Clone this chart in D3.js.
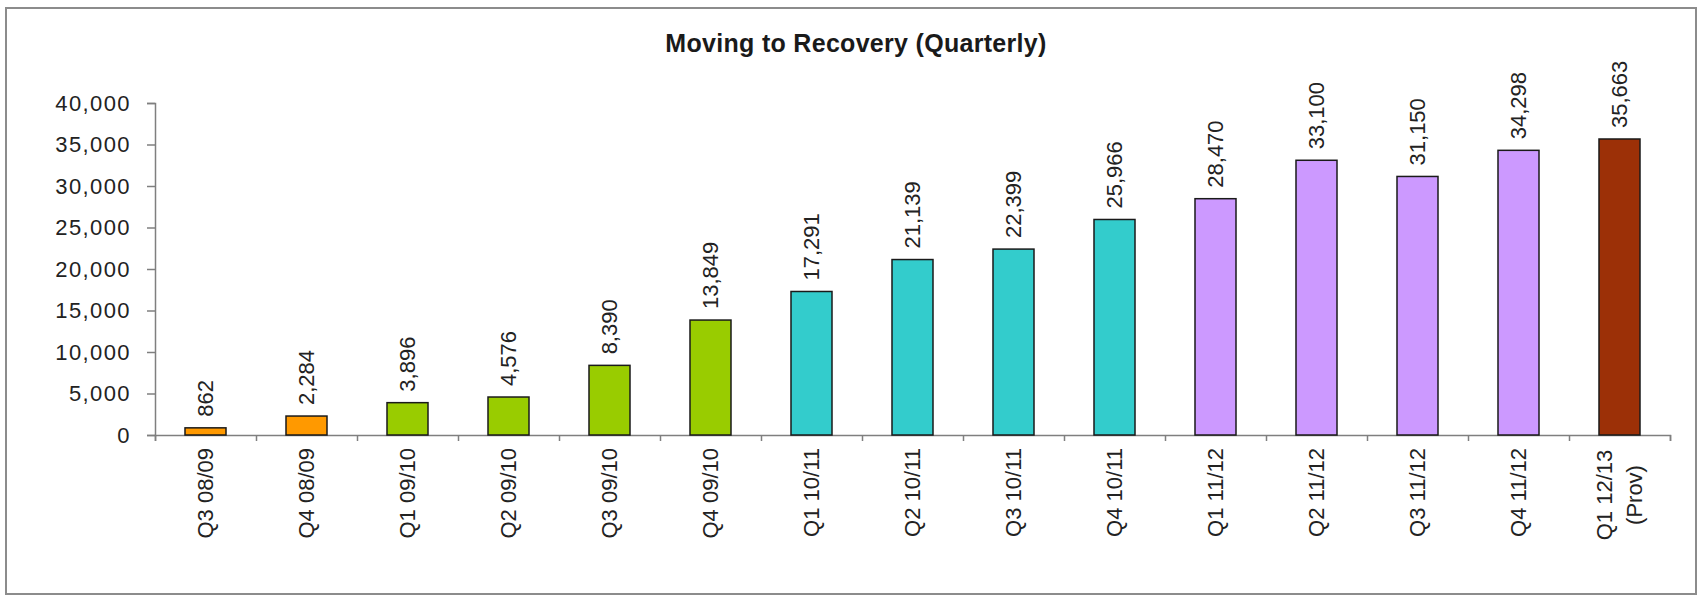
<!DOCTYPE html>
<html>
<head>
<meta charset="utf-8">
<script src="https://cdn.jsdelivr.net/npm/d3@7"></script>
<style>
  html, body { margin: 0; padding: 0; background: #ffffff; }
  svg { display: block; }
  text { font-family: "Liberation Sans", Arial, sans-serif; }
</style>
</head>
<body>
<svg id="chart" width="1701" height="596"></svg>
<script>
// ---- data ----
const title = "Moving to Recovery (Quarterly)";
const categories = ["Q3 08/09", "Q4 08/09", "Q1 09/10", "Q2 09/10", "Q3 09/10", "Q4 09/10",
  "Q1 10/11", "Q2 10/11", "Q3 10/11", "Q4 10/11", "Q1 11/12", "Q2 11/12", "Q3 11/12",
  "Q4 11/12", "Q1 12/13\n(Prov)"];
const values = [862, 2284, 3896, 4576, 8390, 13849, 17291, 21139, 22399, 25966,
  28470, 33100, 31150, 34298, 35663];
const years = ["08/09", "08/09", "09/10", "09/10", "09/10", "09/10", "10/11", "10/11",
  "10/11", "10/11", "11/12", "11/12", "11/12", "11/12", "12/13"];
const yTicks = [0, 5000, 10000, 15000, 20000, 25000, 30000, 35000, 40000];

// ---- layout / style ----
const W = 1701, H = 596;
const plotLeft = 155, plotRight = 1670, plotTop = 103, plotBottom = 435;
const yearColors = d3.scaleOrdinal()
  .domain(["08/09", "09/10", "10/11", "11/12", "12/13"])
  .range(["#FF9900", "#99CC00", "#33CCCC", "#CC99FF", "#9C3007"]);

const svg = d3.select("#chart");
svg.append("rect").attr("width", W).attr("height", H).attr("fill", "#fff");
svg.append("rect")
  .attr("x", 6).attr("y", 8).attr("width", 1690).attr("height", 586)
  .attr("fill", "none").attr("stroke", "#8c8c8c").attr("stroke-width", 2);

const x = d3.scaleBand().domain(categories).range([plotLeft, plotRight])
  .paddingInner(0.594).paddingOuter(0.297);
const y = d3.scaleLinear().domain([0, 40000]).range([plotBottom, plotTop]);
const xBound = d3.scaleLinear().domain([0, categories.length]).range([plotLeft, plotRight]);

// title
svg.append("text")
  .attr("x", 856).attr("y", 52)
  .attr("text-anchor", "middle")
  .attr("font-size", 25).attr("font-weight", "bold")
  .attr("letter-spacing", 0.3)
  .attr("fill", "#1a1a1a")
  .text(title);

// y axis
const yAxis = svg.append("g").attr("transform", `translate(${plotLeft},0)`)
  .call(d3.axisLeft(y).tickValues(yTicks).tickSize(8).tickPadding(16)
    .tickFormat(d3.format(",")));
yAxis.select(".domain").attr("stroke", "#7f7f7f").attr("stroke-width", 1.5);
yAxis.selectAll(".tick line").attr("stroke", "#7f7f7f").attr("stroke-width", 1.5);
yAxis.selectAll(".tick text")
  .attr("font-size", 22).attr("letter-spacing", 1.4)
  .attr("fill", "#222").attr("font-family", "'Liberation Sans', Arial, sans-serif");

// x axis (ticks at category boundaries)
const xAxis = svg.append("g").attr("transform", `translate(0,${plotBottom})`)
  .call(d3.axisBottom(xBound).tickValues(d3.range(categories.length + 1))
    .tickSize(6).tickFormat(""));
xAxis.select(".domain").attr("stroke", "#7f7f7f").attr("stroke-width", 1.5);
xAxis.selectAll(".tick line").attr("stroke", "#7f7f7f").attr("stroke-width", 1.5);

// bars
svg.append("g").selectAll("rect")
  .data(categories)
  .join("rect")
  .attr("x", (d) => x(d))
  .attr("width", x.bandwidth())
  .attr("y", (d, i) => y(values[i]))
  .attr("height", (d, i) => y(0) - y(values[i]))
  .attr("fill", (d, i) => yearColors(years[i]))
  .attr("stroke", "#1a1a1a").attr("stroke-width", 1.5);

// value labels
svg.append("g").selectAll("text")
  .data(categories)
  .join("text")
  .attr("transform", (d, i) =>
    `translate(${x(d) + x.bandwidth() / 2},${y(values[i]) - 11}) rotate(-90)`)
  .attr("dy", "0.35em")
  .attr("text-anchor", "start")
  .attr("font-size", 22)
  .attr("fill", "#222")
  .text((d, i) => d3.format(",")(values[i]));

// category labels
const catG = svg.append("g").selectAll("g")
  .data(categories)
  .join("g")
  .attr("transform", (d) => `translate(${x(d) + x.bandwidth() / 2},${plotBottom}) rotate(-90)`);
catG.each(function (d) {
  const lines = d.split("\n");
  const g = d3.select(this);
  if (lines.length === 1) {
    g.append("text")
      .attr("x", -13).attr("dy", "0.35em")
      .attr("text-anchor", "end")
      .attr("font-size", 22).attr("fill", "#222")
      .text(lines[0]);
  } else {
    lines.forEach((ln, k) => {
      g.append("text")
        .attr("x", -60)
        .attr("y", (k - (lines.length - 1) / 2) * 30)
        .attr("dy", "0.35em")
        .attr("text-anchor", "middle")
        .attr("font-size", 22).attr("fill", "#222")
        .text(ln);
    });
  }
});
</script>
</body>
</html>
